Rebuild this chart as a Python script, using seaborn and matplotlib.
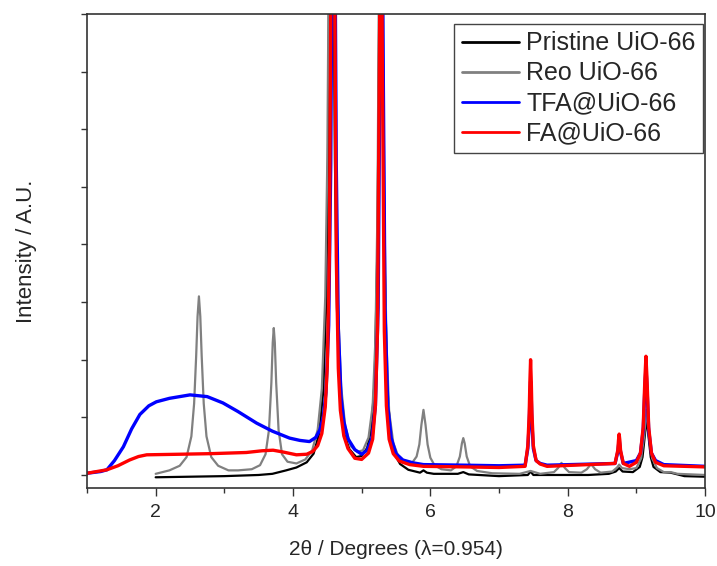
import matplotlib
matplotlib.use("Agg")
import matplotlib.pyplot as plt
import seaborn as sns
import pandas as pd
from matplotlib.ticker import MultipleLocator

# ---------------- data ----------------
labels = ["Pristine UiO-66", "Reo UiO-66", "TFA@UiO-66", "FA@UiO-66"]
colors = ["#000000", "#808080", "#0000ff", "#ff0000"]

pristine_x = [2.0, 2.5, 3.0, 3.5, 3.7, 3.9, 4.05, 4.20, 4.30, 4.38, 4.44, 4.48, 4.51, 4.53,
              4.56, 4.59, 4.61, 4.64, 4.68, 4.74, 4.82, 4.92, 5.00, 5.08, 5.14, 5.19, 5.23,
              5.255, 5.28, 5.305, 5.33, 5.37, 5.42, 5.48, 5.56, 5.68, 5.85, 5.90, 5.95,
              6.05, 6.40, 6.48, 6.56, 7.00, 7.42, 7.46, 7.50, 7.90, 8.30, 8.60, 8.70, 8.75,
              8.80, 8.95, 9.05, 9.09, 9.12, 9.15, 9.18, 9.21, 9.25, 9.35, 9.50, 9.70, 10.0]
pristine_y = [-0.04, -0.03, -0.02, 0.0, 0.02, 0.08, 0.13, 0.22, 0.37, 0.71, 1.45, 2.85, 5.5, 9.0,
              14.0, 9.0, 5.5, 2.9, 1.45, 0.73, 0.45, 0.31, 0.33, 0.47, 0.8, 1.65, 4.0,
              7.9, 12.0, 7.9, 4.0, 1.6, 0.7, 0.36, 0.19, 0.09, 0.04, 0.08, 0.04,
              0.02, 0.02, 0.05, 0.01, -0.02, 0.0, 0.06, 0.0, 0.0, 0.0, 0.02, 0.06, 0.12,
              0.06, 0.05, 0.14, 0.31, 0.64, 1.0, 0.64, 0.31, 0.14, 0.05, 0.04, -0.02, -0.03]

reo_x = [2.0, 2.2, 2.35, 2.45, 2.52, 2.56, 2.59, 2.61, 2.63, 2.65, 2.67, 2.70, 2.74, 2.81,
         2.91, 3.06, 3.2, 3.4, 3.52, 3.60, 3.65, 3.685, 3.705, 3.72, 3.735, 3.755, 3.79,
         3.84, 3.92, 4.05, 4.18, 4.28, 4.36, 4.42, 4.47, 4.50, 4.53, 4.56, 4.59, 4.62,
         4.65, 4.70, 4.76, 4.84, 4.94, 5.02, 5.10, 5.16, 5.20, 5.23, 5.255, 5.28, 5.305,
         5.33, 5.36, 5.40, 5.46, 5.54, 5.64, 5.74, 5.80, 5.84, 5.87, 5.90, 5.93, 5.96,
         6.00, 6.06, 6.16, 6.30, 6.38, 6.43, 6.46, 6.48, 6.50, 6.53, 6.58, 6.68, 6.90,
         7.30, 7.46, 7.60, 7.80, 7.86, 7.91, 7.96, 8.02, 8.20, 8.28, 8.34, 8.40, 8.48,
         8.65, 8.72, 8.75, 8.79, 8.90, 9.00, 9.07, 9.11, 9.15, 9.19, 9.23, 9.30, 9.40,
         9.50, 9.60, 10.0]
reo_y = [0.02, 0.08, 0.16, 0.31, 0.67, 1.24, 2.07, 2.75, 3.1, 2.75, 2.07, 1.24, 0.67, 0.31,
         0.16, 0.08, 0.08, 0.10, 0.17, 0.36, 0.78, 1.6, 2.3, 2.55, 2.3, 1.6, 0.78,
         0.36, 0.23, 0.2, 0.27, 0.43, 0.79, 1.5, 3.1, 5.5, 10.5, 15.0, 10.5, 5.5,
         3.1, 1.55, 0.85, 0.5, 0.4, 0.43, 0.65, 1.2, 2.35, 4.6, 9.3, 14.0, 9.3,
         4.6, 2.35, 1.1, 0.56, 0.3, 0.22, 0.22, 0.32, 0.53, 0.87, 1.13, 0.87, 0.53,
         0.3, 0.17, 0.1, 0.08, 0.15, 0.32, 0.55, 0.64, 0.55, 0.32, 0.15, 0.07, 0.03,
         0.02, 0.07, 0.02, 0.05, 0.12, 0.21, 0.12, 0.05, 0.04, 0.1, 0.19, 0.1, 0.04,
         0.06, 0.13, 0.18, 0.12, 0.1, 0.12, 0.29, 0.64, 1.13, 0.64, 0.29, 0.12, 0.05,
         0.05, 0.02, 0.0]

tfa_x = [0.95, 1.0, 1.2, 1.29, 1.4, 1.53, 1.65, 1.77, 1.9, 2.01, 2.2, 2.5, 2.75, 2.98, 3.2,
         3.47, 3.7, 3.95, 4.1, 4.24, 4.33, 4.39, 4.44, 4.48, 4.52, 4.55, 4.57, 4.59, 4.61,
         4.63, 4.66, 4.70, 4.74, 4.80, 4.90, 5.00, 5.08, 5.15, 5.20, 5.24, 5.27, 5.29, 5.31,
         5.34, 5.38, 5.43, 5.50, 5.60, 5.75, 5.90, 6.5, 7.0, 7.38, 7.42, 7.44, 7.45, 7.46,
         7.47, 7.48, 7.50, 7.54, 7.60, 7.70, 8.69, 8.73, 8.75, 8.77, 8.81, 9.00, 9.06, 9.10,
         9.125, 9.14, 9.155, 9.18, 9.22, 9.28, 9.40, 10.0]
tfa_y = [0.03, 0.03, 0.06, 0.09, 0.25, 0.49, 0.80, 1.05, 1.20, 1.27, 1.33, 1.39, 1.36, 1.25, 1.10,
         0.90, 0.76, 0.64, 0.60, 0.58, 0.65, 0.78, 1.0, 1.43, 2.6, 5.4, 9.7, 14.0, 9.7,
         5.4, 2.55, 1.35, 0.93, 0.63, 0.44, 0.36, 0.43, 0.64, 1.2, 2.9, 7.7, 12.0, 7.7,
         2.9, 1.2, 0.64, 0.37, 0.26, 0.21, 0.18, 0.17, 0.16, 0.17, 0.46, 0.89, 1.33, 1.62,
         1.33, 0.89, 0.46, 0.25, 0.2, 0.17, 0.2, 0.4, 0.62, 0.4, 0.2, 0.25, 0.38, 0.78,
         1.53, 1.87, 1.53, 0.78, 0.38, 0.25, 0.18, 0.15]

fa_x = [0.95, 1.0, 1.29, 1.45, 1.62, 1.75, 1.87, 2.35, 2.8, 3.32, 3.55, 3.71, 3.85, 4.05,
        4.20, 4.29, 4.36, 4.42, 4.47, 4.50, 4.53, 4.56, 4.58, 4.60, 4.63, 4.66, 4.69, 4.74,
        4.80, 4.90, 5.00, 5.10, 5.16, 5.20, 5.23, 5.26, 5.28, 5.30, 5.33, 5.36, 5.40, 5.46,
        5.55, 5.70, 5.90, 6.5, 7.0, 7.38, 7.42, 7.44, 7.45, 7.46, 7.47, 7.48, 7.50, 7.54,
        7.60, 7.70, 8.69, 8.73, 8.74, 8.75, 8.76, 8.77, 8.81, 8.90, 9.00, 9.06, 9.10,
        9.125, 9.14, 9.155, 9.18, 9.22, 9.28, 9.40, 10.0]
fa_y = [0.02, 0.03, 0.09, 0.16, 0.26, 0.32, 0.35, 0.36, 0.37, 0.39, 0.42, 0.43, 0.40, 0.35,
        0.36, 0.41, 0.51, 0.72, 1.18, 1.9, 3.85, 10.2, 15.0, 10.2, 3.8, 1.85, 1.12, 0.68,
        0.46, 0.29, 0.27, 0.38, 0.62, 1.2, 2.5, 7.4, 12.0, 7.4, 2.5, 1.2, 0.62, 0.37,
        0.24, 0.18, 0.15, 0.14, 0.13, 0.15, 0.51, 1.07, 1.63, 2.0, 1.63, 1.07, 0.51, 0.25,
        0.19, 0.15, 0.2, 0.43, 0.6, 0.71, 0.6, 0.43, 0.2, 0.15, 0.22, 0.38, 0.83,
        1.68, 2.06, 1.68, 0.83, 0.38, 0.22, 0.16, 0.14]

x_ticks = [2, 4, 6, 8, 10]

# ---------------- plot ----------------
sns.set_theme(style="ticks")
plt.rcParams["font.family"] = ["Liberation Sans", "DejaVu Sans"]

fig = plt.figure(figsize=(7.17, 5.66), dpi=100)
ax = fig.add_axes([87 / 717, 1 - 488 / 566, (705 - 87) / 717, (488 - 14) / 566])

series = [(pristine_x, pristine_y, 1.6), (reo_x, reo_y, 1.6),
          (tfa_x, tfa_y, 2.4), (fa_x, fa_y, 2.4)]
for (xs, ys, lw), lab, col in zip(series, labels, colors):
    df = pd.DataFrame({"x": xs, "y": ys})
    sns.lineplot(data=df, x="x", y="y", ax=ax, color=col, linewidth=lw,
                 label=lab, estimator=None, sort=False)

ax.set_xlim(1, 10)
ax.set_ylim(-0.226, 8.0)
ax.set_xticks(x_ticks)
ax.set_xticklabels([str(t) for t in x_ticks])
ax.xaxis.set_minor_locator(MultipleLocator(1))
ax.yaxis.set_major_locator(MultipleLocator(1))
ax.set_yticklabels([])
ax.tick_params(axis="x", which="major", direction="out", length=5.5, width=1,
               labelsize=14, pad=6, color="#333333")
ax.tick_params(axis="x", which="minor", direction="out", length=3.5, width=1, color="#333333")
ax.tick_params(axis="y", which="major", direction="out", length=4.5, width=1, color="#333333")
for sp in ax.spines.values():
    sp.set_visible(True)
    sp.set_color("#333333")
    sp.set_linewidth(1.2)

ax.set_xlabel("2θ / Degrees (λ=0.954)", fontsize=15, labelpad=14)
ax.set_ylabel("Intensity / A.U.", fontsize=16, labelpad=28)

leg = ax.legend(loc="upper right", bbox_to_anchor=(703 / 717, 1 - 24 / 566),
                bbox_transform=fig.transFigure, borderaxespad=0, fontsize=18,
                frameon=True, fancybox=False, framealpha=1, edgecolor="#444444",
                handlelength=2.3, handletextpad=0.28, labelspacing=0.24, borderpad=0.3)
leg.get_frame().set_linewidth(1.0)
for line in leg.get_lines():
    line.set_linewidth(2.0)

fig.savefig("out.png", dpi=100)
